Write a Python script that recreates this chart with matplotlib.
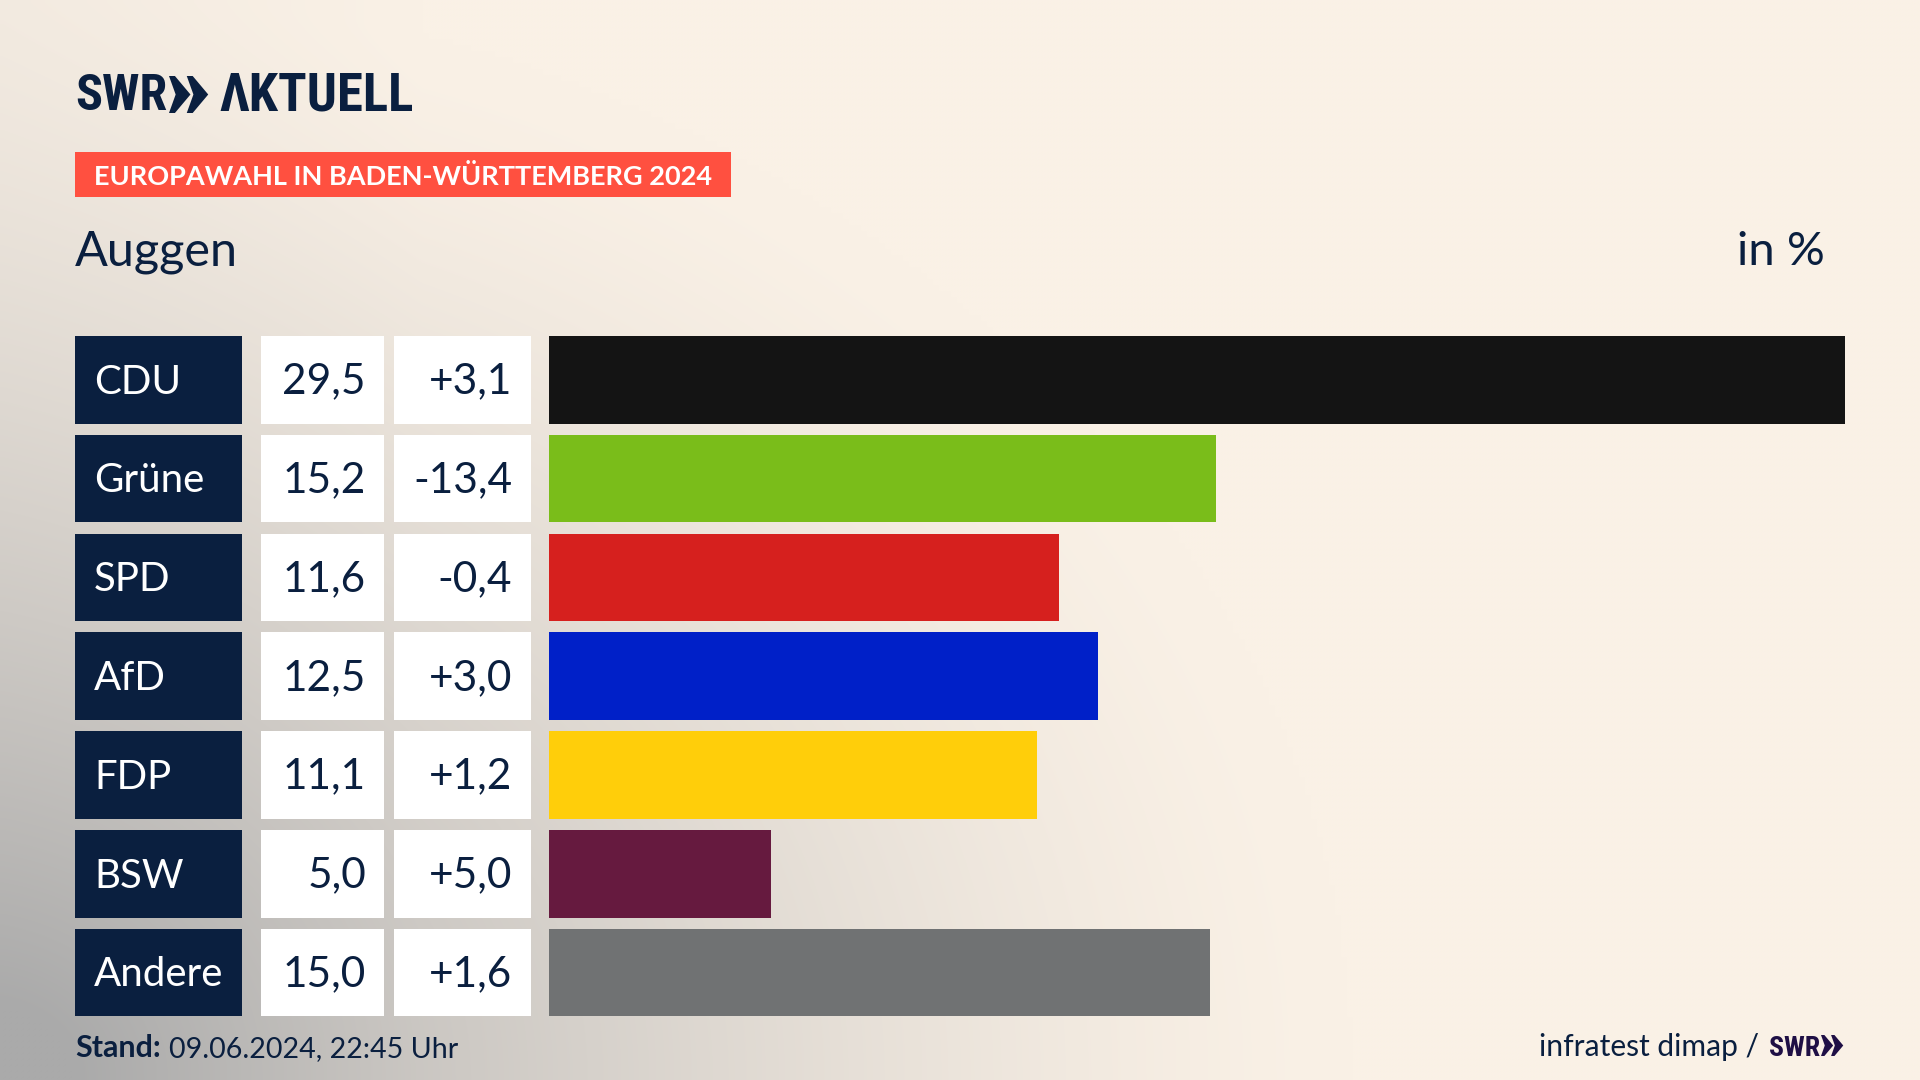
#!/usr/bin/env python
# Europawahl result bars, Auggen
import numpy as np
import matplotlib.pyplot as plt
from matplotlib import font_manager
from matplotlib.patches import Rectangle, Polygon

parties = ['CDU', 'Grüne', 'SPD', 'AfD', 'FDP', 'BSW', 'Andere']
share_labels = ['29,5', '15,2', '11,6', '12,5', '11,1', '5,0', '15,0']
changes = ['+3,1', '-13,4', '-0,4', '+3,0', '+1,2', '+5,0', '+1,6']
# bar lengths as measured in the picture
shares = [29.5, 15.18, 11.6, 12.5, 11.1, 5.05, 15.05]
colors = ['#141414', '#7ABD1A', '#D6201E', '#0020C8', '#FFCE0A', '#661A3F', '#707273']

NAVY = '#0A1F3F'
W, H = 1920, 1080
ROW_TOP = 336
ROW_STEP = 98.8
ROW_H = 87.5

installed = {f.name for f in font_manager.fontManager.ttflist}
narrow = 'Lato'
for name in ['Roboto Condensed', 'Open Sans Condensed', 'Noto Sans Condensed', 'Lato']:
    if name in installed:
        narrow = name
        break
plt.rcParams['font.family'] = ['Lato', 'DejaVu Sans']

fig = plt.figure(figsize=(W / 100, H / 100), dpi=100)

# full figure axes in pixels, for background, table and header
bg = fig.add_axes([0, 0, 1, 1])
bg.set_xlim(0, W)
bg.set_ylim(H, 0)
bg.axis('off')

xx, yy = np.meshgrid(np.linspace(0, W, 320), np.linspace(0, H, 180))
d = np.sqrt((xx / 1350) ** 2 + ((H - yy) / 1100) ** 2)
fade = np.clip(1 - d, 0, 1) ** 1.4
fade = np.clip(fade + 0.09 * np.clip(1 - xx / 420, 0, 1), 0, 1)
cream = np.array([250, 241, 230]) / 255
grey = np.array([170, 170, 170]) / 255
img = cream + (grey - cream) * fade[..., None]
bg.imshow(img, extent=[0, W, H, 0], aspect='auto', interpolation='bilinear', zorder=0)

# logo
bg.text(75, 110.5, 'SWR', color=NAVY, fontsize=36, family=narrow, weight='bold', va='baseline')
bg.text(219, 110.5, 'ΛKTUELL', color=NAVY, fontsize=38, family=[narrow, 'DejaVu Sans'],
        weight='bold', va='baseline')


def chevrons(x, y, h, color):
    cw = 0.58 * h
    s = 0.4 * h
    flat = 0.16 * h
    for off in (0, 0.48 * h):
        pts = [(x + off, y), (x + off + flat, y), (x + off + cw, y + h / 2),
               (x + off + flat, y + h), (x + off, y + h), (x + off + cw - s, y + h / 2)]
        bg.add_patch(Polygon(pts, closed=True, color=color, lw=0, zorder=3))


chevrons(169, 76, 37, NAVY)

# banner
bg.add_patch(Rectangle((75, 152), 656, 45, color='#FF5040', lw=0, zorder=2))
bg.text(94, 185, 'EUROPAWAHL IN BADEN-WÜRTTEMBERG 2024', color='white', fontsize=19.5,
        weight='bold', va='baseline', zorder=3)

bg.text(75, 265, 'Auggen', color=NAVY, fontsize=35, va='baseline')
bg.text(1825, 265, 'in %', color=NAVY, fontsize=34, va='baseline', ha='right')

# table cells
for i, party in enumerate(parties):
    top = ROW_TOP + i * ROW_STEP
    base = top + 57.5
    bg.add_patch(Rectangle((75, top), 167, ROW_H, color=NAVY, lw=0, zorder=2))
    bg.add_patch(Rectangle((261, top), 123, ROW_H, color='white', lw=0, zorder=2))
    bg.add_patch(Rectangle((394, top), 137, ROW_H, color='white', lw=0, zorder=2))
    bg.text(94, base, party, color='white', fontsize=29, va='baseline', zorder=3)
    bg.text(366, base, share_labels[i], color=NAVY, fontsize=30.5,
            ha='right', va='baseline', zorder=3)
    bg.text(512, base, changes[i], color=NAVY, fontsize=30.5, ha='right', va='baseline', zorder=3)

# bars
ax_top = ROW_TOP + ROW_H / 2 - ROW_STEP / 2
ax = fig.add_axes([549 / W, 1 - (ax_top + 7 * ROW_STEP) / H, 1296 / W, 7 * ROW_STEP / H])
ax.patch.set_alpha(0)
ax.barh(range(len(parties)), shares, height=ROW_H / ROW_STEP, color=colors)
ax.set_xlim(0, 29.5)
ax.set_ylim(6.5, -0.5)
ax.axis('off')

# footer
bg.text(75, 1057, 'Stand:', color=NAVY, fontsize=22, weight='bold', va='baseline')
bg.text(169, 1057, '09.06.2024, 22:45 Uhr', color=NAVY, fontsize=20.6, va='baseline')
bg.text(1539, 1056, 'infratest dimap /', color=NAVY, fontsize=21.6, va='baseline')
bg.text(1769, 1056, 'SWR', color='#1F0F45', fontsize=20, family=narrow, weight='bold', va='baseline')
chevrons(1821, 1035, 21, '#1F0F45')

fig.savefig('out.png', dpi=100)
